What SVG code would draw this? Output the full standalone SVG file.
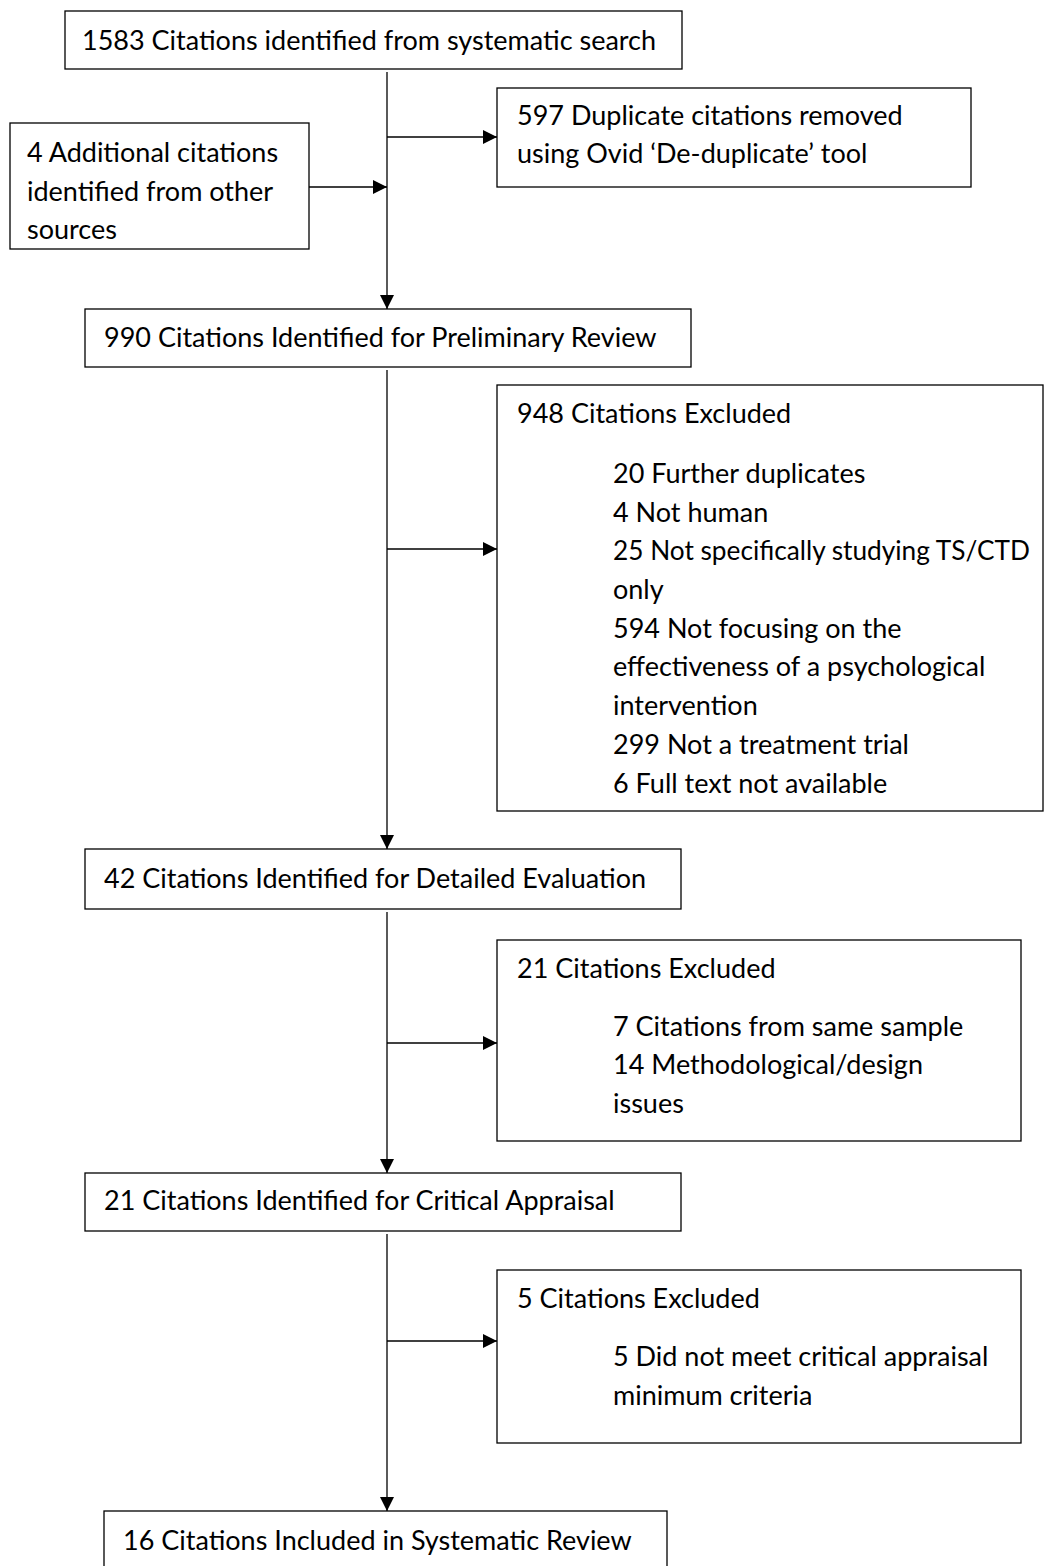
<svg xmlns="http://www.w3.org/2000/svg" width="1044" height="1566" viewBox="0 0 1044 1566">
<style>
.box{fill:#fff;stroke:#000;stroke-width:1.3}
.t{font-family:Lato,"Open Sans","Liberation Sans",sans-serif;font-size:27px;fill:#000}
.c{stroke:#000;stroke-width:1.3;fill:none}
</style>
<defs>
<marker id="ah" markerUnits="userSpaceOnUse" markerWidth="14" markerHeight="14" viewBox="0 0 14 14" refX="14" refY="7" orient="auto">
<path d="M0,0 L14,7 L0,14 Z" fill="#000"/>
</marker>
</defs>
<rect width="1044" height="1566" fill="#fff"/>
<g id="connectors">
<line class="c" x1="387" y1="72" x2="387" y2="309" marker-end="url(#ah)"/>
<line class="c" x1="387" y1="137" x2="497" y2="137" marker-end="url(#ah)"/>
<line class="c" x1="309" y1="187" x2="387" y2="187" marker-end="url(#ah)"/>
<line class="c" x1="387" y1="370" x2="387" y2="849" marker-end="url(#ah)"/>
<line class="c" x1="387" y1="549" x2="497" y2="549" marker-end="url(#ah)"/>
<line class="c" x1="387" y1="912" x2="387" y2="1173" marker-end="url(#ah)"/>
<line class="c" x1="387" y1="1043" x2="497" y2="1043" marker-end="url(#ah)"/>
<line class="c" x1="387" y1="1234" x2="387" y2="1511" marker-end="url(#ah)"/>
<line class="c" x1="387" y1="1341" x2="497" y2="1341" marker-end="url(#ah)"/>
</g>
<g id="n1"><rect class="box" x="65" y="11" width="617" height="58"/><text class="t" x="82" y="50">1583 Citations identified from systematic search</text></g>
<g id="n2"><rect class="box" x="497" y="88" width="474" height="99"/><text class="t" x="517" y="125">597 Duplicate citations removed</text><text class="t" x="517" y="163">using Ovid ‘De-duplicate’ tool</text></g>
<g id="n3"><rect class="box" x="10" y="123" width="299" height="126"/><text class="t" x="27" y="162">4 Additional citations</text><text class="t" x="27" y="201">identified from other</text><text class="t" x="27" y="239">sources</text></g>
<g id="n4"><rect class="box" x="85" y="309" width="606" height="58"/><text class="t" x="104" y="347">990 Citations Identified for Preliminary Review</text></g>
<g id="n5"><rect class="box" x="497" y="385" width="546" height="426"/><text class="t" x="517" y="423">948 Citations Excluded</text>
<text class="t" x="613" y="483">20 Further duplicates</text>
<text class="t" x="613" y="522">4 Not human</text>
<text class="t" x="613" y="560" textLength="417" lengthAdjust="spacingAndGlyphs">25 Not specifically studying TS/CTD</text>
<text class="t" x="613" y="599">only</text>
<text class="t" x="613" y="638">594 Not focusing on the</text>
<text class="t" x="613" y="676">effectiveness of a psychological</text>
<text class="t" x="613" y="715">intervention</text>
<text class="t" x="613" y="754">299 Not a treatment trial</text>
<text class="t" x="613" y="793">6 Full text not available</text></g>
<g id="n6"><rect class="box" x="85" y="849" width="596" height="60"/><text class="t" x="104" y="888">42 Citations Identified for Detailed Evaluation</text></g>
<g id="n7"><rect class="box" x="497" y="940" width="524" height="201"/><text class="t" x="517" y="978">21 Citations Excluded</text>
<text class="t" x="613" y="1036">7 Citations from same sample</text>
<text class="t" x="613" y="1074">14 Methodological/design</text>
<text class="t" x="613" y="1113">issues</text></g>
<g id="n8"><rect class="box" x="85" y="1173" width="596" height="58"/><text class="t" x="104" y="1210">21 Citations Identified for Critical Appraisal</text></g>
<g id="n9"><rect class="box" x="497" y="1270" width="524" height="173"/><text class="t" x="517" y="1308">5 Citations Excluded</text>
<text class="t" x="613" y="1366">5 Did not meet critical appraisal</text>
<text class="t" x="613" y="1405">minimum criteria</text></g>
<g id="n10"><rect class="box" x="104" y="1511" width="563" height="60"/><text class="t" x="123" y="1550">16 Citations Included in Systematic Review</text></g>
</svg>
